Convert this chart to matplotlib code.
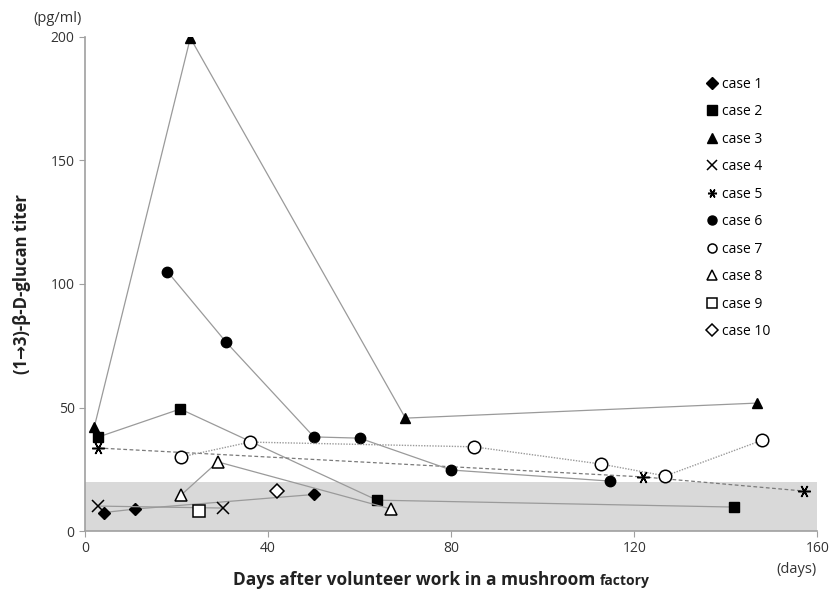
import matplotlib.pyplot as plt

# days after volunteer work / beta-D-glucan titer (pg/ml)
case1_x = [4.2, 10.9, 50]
case1_y = [7.5, 8.9, 14.8]
case2_x = [2.8, 20.8, 63.8, 141.9]
case2_y = [38, 49.4, 12.5, 9.7]
case3_x = [2.0, 23, 70, 146.9]
case3_y = [42, 199.6, 45.7, 51.8]
case4_x = [2.9, 30.1]
case4_y = [10.1, 9.3]
case5_x = [2.9, 122, 157]
case5_y = [33.6, 21.9, 16.2]
case6_x = [18, 30.8, 50, 60, 80, 114.8]
case6_y = [105, 76.5, 38.1, 37.6, 24.7, 20.2]
case7_x = [21, 36, 84.9, 112.8, 126.8, 148]
case7_y = [30, 36, 34.1, 27.1, 22.3, 36.8]
case8_x = [21, 29, 66.9]
case8_y = [14.6, 28, 8.9]
case9_x = [25]
case9_y = [8]
case10_x = [42]
case10_y = [16.2]

normal_range = 20

plt.rcParams['font.family'] = ['Open Sans', 'DejaVu Sans']

fig = plt.figure(figsize=(8.34, 5.96), dpi=100)
ax = fig.add_axes([0.102, 0.109, 0.878, 0.829])

ax.axhspan(0, normal_range, color='#d9d9d9', zorder=0, lw=0)

lc = '#9a9a9a'
ax.plot(case1_x, case1_y, color=lc, lw=0.9, marker='D', ms=6, mfc='black', mec='black', label='case 1')
ax.plot(case2_x, case2_y, color=lc, lw=0.9, marker='s', ms=7, mfc='black', mec='black', label='case 2')
ax.plot(case3_x, case3_y, color=lc, lw=0.9, marker='^', ms=7.5, mfc='black', mec='black', label='case 3')
ax.plot(case4_x, case4_y, color=lc, lw=0.9, marker='x', ms=8, mec='black', mew=1.1, label='case 4')
ax.plot(case5_x, case5_y, color='#7a7a7a', lw=0.9, ls=(0, (3, 2)), marker=(6, 2, 90), ms=9, mec='black', mew=1.1, label='case 5')
ax.plot(case6_x, case6_y, color=lc, lw=0.9, marker='o', ms=7.5, mfc='black', mec='black', label='case 6')
ax.plot(case7_x, case7_y, color=lc, lw=1.0, ls=(0, (1, 1)), marker='o', ms=9, mfc='white', mec='black', mew=1.1, label='case 7')
ax.plot(case8_x, case8_y, color=lc, lw=0.9, marker='^', ms=9, mfc='white', mec='black', mew=1.1, label='case 8')
ax.plot(case9_x, case9_y, color=lc, lw=0.9, marker='s', ms=9, mfc='white', mec='black', mew=1.1, label='case 9')
ax.plot(case10_x, case10_y, color=lc, lw=0.9, marker='D', ms=7, mfc='white', mec='black', mew=1.1, label='case 10')

ax.set_xlim(0, 160)
ax.set_ylim(0, 200)
ax.set_xticks([0, 40, 80, 120, 160])
ax.set_yticks([0, 50, 100, 150, 200])
for s in ['top', 'right']:
    ax.spines[s].set_visible(False)
for s in ['left', 'bottom']:
    ax.spines[s].set_color('#a0a0a0')
    ax.spines[s].set_linewidth(1.2)
ax.tick_params(colors='#a0a0a0', labelcolor='#333333', labelsize=10, length=4)

ax.set_ylabel('(1\u21923)-\u03b2-D-glucan titer', fontsize=12, fontweight='bold', color='#222222', labelpad=14)
ax.text(0.703, -0.109, 'Days after volunteer work in a mushroom ', transform=ax.transAxes,
        ha='right', va='baseline', fontsize=12.5, fontweight='bold', color='#222222')
ax.text(0.703, -0.109, 'factory', transform=ax.transAxes, ha='left', va='baseline',
        fontsize=10, fontweight='bold', color='#222222')
ax.text(-0.07, 1.03, '(pg/ml)', transform=ax.transAxes, fontsize=10.5, color='#333333')
ax.text(0.972, -0.063, '(days)', transform=ax.transAxes, ha='center', va='top', fontsize=10.5, color='#333333')

leg = ax.legend(loc='upper left', bbox_to_anchor=(0.83, 0.945), frameon=False, fontsize=10,
                handlelength=0.9, handletextpad=0.3, labelspacing=0.9)
for h in leg.legend_handles:
    h.set_linestyle('none')
    h.set_markersize(6.5)

fig.savefig('out.png', dpi=100)
